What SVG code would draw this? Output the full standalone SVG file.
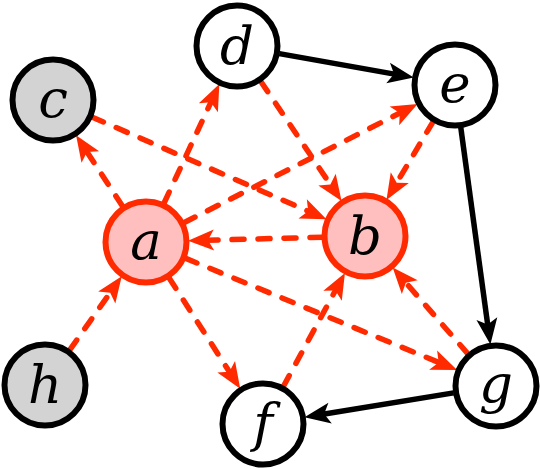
<svg xmlns="http://www.w3.org/2000/svg" width="540" height="469" viewBox="0 0 540 469">
<defs>
<style>
.n{stroke:#000;stroke-width:6;fill:#fff}
.g{fill:#d3d3d3}
.r{stroke:#ff2a00;fill:#ffbfbf}
.lbl{font-family:"DejaVu Serif",serif;font-style:italic;font-size:53px;text-anchor:middle;fill:#000}
.bk{stroke:#000;stroke-width:5.5;fill:none;marker-end:url(#ab)}
.rd{stroke:#ff2a00;stroke-width:5.5;fill:none;stroke-dasharray:12 14;stroke-linecap:round;marker-end:url(#ar)}
</style>
<marker id="ab" viewBox="-18 -12 30 24" markerWidth="30" markerHeight="24" refX="0" refY="0" orient="auto" markerUnits="userSpaceOnUse">
<path d="M11,0 L-15,-10.5 L-9,0 L-15,10.5 Z" fill="#000"/>
</marker>
<marker id="ar" viewBox="-18 -12 30 24" markerWidth="30" markerHeight="24" refX="0" refY="0" orient="auto" markerUnits="userSpaceOnUse">
<path d="M11,0 L-15,-10.5 L-9,0 L-15,10.5 Z" fill="#ff2a00"/>
</marker>
</defs>
<g id="edges">
<line class="bk" x1="279.3" y1="53.6" x2="402.9" y2="75.6"/>
<line class="bk" x1="460.8" y1="127.6" x2="488.9" y2="333.5"/>
<line class="bk" x1="453.6" y1="392.9" x2="315.3" y2="415.5"/>
<line class="rd" x1="122.4" y1="206.0" x2="82.1" y2="144.4"/>
<line class="rd" x1="164.1" y1="203.0" x2="214.7" y2="94.1"/>
<line class="rd" x1="184.3" y1="222.5" x2="407.8" y2="109.0"/>
<line class="rd" x1="169.3" y1="278.2" x2="234.3" y2="379.4"/>
<line class="rd" x1="185.8" y1="258.4" x2="447.0" y2="365.8"/>
<line class="rd" x1="69.8" y1="349.9" x2="115.4" y2="285.3"/>
<line class="rd" x1="92.4" y1="117.2" x2="316.4" y2="214.8"/>
<line class="rd" x1="261.0" y1="81.7" x2="335.4" y2="192.0"/>
<line class="rd" x1="433.0" y1="121.9" x2="392.1" y2="190.5"/>
<line class="rd" x1="322.0" y1="237.2" x2="199.0" y2="240.5"/>
<line class="rd" x1="283.5" y1="386.2" x2="339.7" y2="282.6"/>
<line class="rd" x1="467.7" y1="353.6" x2="399.9" y2="275.9"/>
</g>
<g id="node-c"><circle class="n g" cx="53" cy="100" r="40.5"/><text class="lbl" x="53" y="117">c</text></g>
<g id="node-d"><circle class="n" cx="237" cy="46" r="40.5"/><text class="lbl" x="237" y="64">d</text></g>
<g id="node-e"><circle class="n" cx="455" cy="85" r="40.5"/><text class="lbl" x="455" y="102">e</text></g>
<g id="node-a"><circle class="n r" cx="146" cy="242" r="40.5"/><text class="lbl" x="146" y="259">a</text></g>
<g id="node-b"><circle class="n r" cx="365" cy="236" r="40.5"/><text class="lbl" x="365" y="254">b</text></g>
<g id="node-h"><circle class="n g" cx="45" cy="385" r="40.5"/><text class="lbl" x="45" y="403">h</text></g>
<g id="node-f"><circle class="n" cx="263" cy="424" r="40.5"/><text class="lbl" x="263" y="441">f</text></g>
<g id="node-g"><circle class="n" cx="496" cy="386" r="40.5"/><text class="lbl" x="496" y="402">g</text></g>
</svg>
